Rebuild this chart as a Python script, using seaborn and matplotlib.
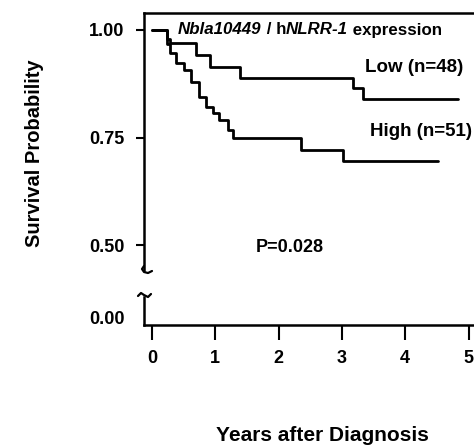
import numpy as np
import pandas as pd
import matplotlib
matplotlib.use("Agg")
import matplotlib.pyplot as plt
from matplotlib.lines import Line2D
import seaborn as sns

# ---- data ----
low_time = [0.0, 0.24, 0.28, 0.69, 0.91, 1.39, 3.17, 3.34, 4.84]
low_surv = [1.0, 0.980, 0.970, 0.942, 0.914, 0.888, 0.865, 0.840, 0.840]
high_time = [0.0, 0.24, 0.28, 0.38, 0.50, 0.61, 0.74, 0.85, 0.96, 1.06, 1.20, 1.28, 2.35, 3.02, 4.52]
high_surv = [1.0, 0.967, 0.947, 0.923, 0.907, 0.879, 0.844, 0.821, 0.807, 0.791, 0.767, 0.749, 0.721, 0.695, 0.695]
x_ticks = [0, 1, 2, 3, 4, 5]
y_ticks_top = [0.50, 0.75, 1.00]
y_tick_labels_top = ["0.50", "0.75", "1.00"]
y_ticks_bottom = [0.0]
y_tick_labels_bottom = ["0.00"]
title_parts = [("Nbla10449", "italic"), (" / h", "normal"), ("NLRR-1", "italic"), (" expression", "normal")]

sns.set_style("ticks")
plt.rcParams["font.family"] = ["Liberation Sans", "DejaVu Sans"]
plt.rcParams["font.weight"] = "bold"
for k in ["text.color", "axes.labelcolor", "xtick.color", "ytick.color", "axes.edgecolor"]:
    plt.rcParams[k] = "black"

W, H = 474, 445
fig = plt.figure(figsize=(W / 100, H / 100), dpi=100)

def fx(px):
    return px / W

def fy(py):
    return 1 - py / H

left_px, right_px = 144, 474
ax = fig.add_axes([fx(left_px), fy(270), (right_px - left_px) / W, (270 - 13) / H])
axb = fig.add_axes([fx(left_px), fy(325), (right_px - left_px) / W, (325 - 297) / H])

df_low = pd.DataFrame({"time": low_time, "surv": low_surv})
df_high = pd.DataFrame({"time": high_time, "surv": high_surv})
sns.lineplot(data=df_low, x="time", y="surv", ax=ax, color="black", lw=2.0,
             drawstyle="steps-post", estimator=None, sort=False)
sns.lineplot(data=df_high, x="time", y="surv", ax=ax, color="black", lw=2.0,
             drawstyle="steps-post", estimator=None, sort=False)

xmin = -8 / 63.3
xmax = (right_px - 152) / 63.3
for a in (ax, axb):
    a.set_xlim(xmin, xmax)
    a.set_xlabel("")
    a.set_ylabel("")
    for s in a.spines.values():
        s.set_linewidth(1.8)
    a.spines["right"].set_visible(False)

ax.set_ylim(0.5 - 25 / 430, 1.0 + 17 / 430)
ax.spines["bottom"].set_visible(False)
ax.spines["top"].set_visible(True)
ax.set_xticks([])
ax.set_yticks(y_ticks_top)
ax.set_yticklabels(y_tick_labels_top)
ax.tick_params(axis="y", length=6, width=1.5, pad=8, labelsize=13)

axb.set_ylim(-7 / 430, 21 / 430)
axb.spines["top"].set_visible(False)
axb.set_yticks(y_ticks_bottom)
axb.set_yticklabels(y_tick_labels_bottom)
axb.tick_params(axis="y", length=0, pad=14, labelsize=13)
axb.set_xticks(x_ticks)
axb.set_xticklabels([str(t) for t in x_ticks])
axb.tick_params(axis="x", length=11, width=1.5, pad=7, labelsize=13)

for t in ax.get_yticklabels() + axb.get_yticklabels() + axb.get_xticklabels():
    t.set_fontweight("bold")

# axis labels
ax.set_ylabel("Survival Probability", fontsize=14.5, fontweight="bold")
ax.yaxis.set_label_coords((44 - left_px) / (right_px - left_px), (270 - 153) / 257)
axb.set_xlabel("Years after Diagnosis", fontsize=15, fontweight="bold")
axb.xaxis.set_label_coords((322 - left_px) / (right_px - left_px), (325 - 426) / 28)

# mixed-style heading on a common baseline
fs_t = 12.2
renderer = fig.canvas.get_renderer()
x_cur = (178 - left_px) / 330
y_base = (270 - 34.5) / 257
for txt, sty in title_parts:
    t = ax.text(x_cur, y_base, txt, transform=ax.transAxes, fontsize=fs_t,
                fontweight="bold", style=sty, va="baseline", ha="left")
    ext = t.get_window_extent(renderer=renderer)
    x_cur = ax.transAxes.inverted().transform((ext.x1, ext.y0))[0]

ax.text((463 - left_px) / 330, (270 - 67) / 257, "Low (n=48)", transform=ax.transAxes,
        fontsize=13.5, fontweight="bold", ha="right", va="center")
ax.text((472 - left_px) / 330, (270 - 132) / 257, "High (n=51)", transform=ax.transAxes,
        fontsize=13.5, fontweight="bold", ha="right", va="center")
ax.text((290 - left_px) / 330, (270 - 247) / 257, "P=0.028", transform=ax.transAxes,
        fontsize=13, fontweight="bold", ha="center", va="center")

# axis-break marks
def squiggle(pts):
    xs = [fx(p[0]) for p in pts]
    ys = [fy(p[1]) for p in pts]
    fig.add_artist(Line2D(xs, ys, color="black", lw=1.6, transform=fig.transFigure,
                          solid_capstyle="round"))

squiggle([(144, 266), (142, 269), (144, 272), (148, 273), (152, 271)])
squiggle([(138, 296), (141, 293), (144, 295), (148, 297), (151, 294)])

fig.savefig("out.png", dpi=100)
